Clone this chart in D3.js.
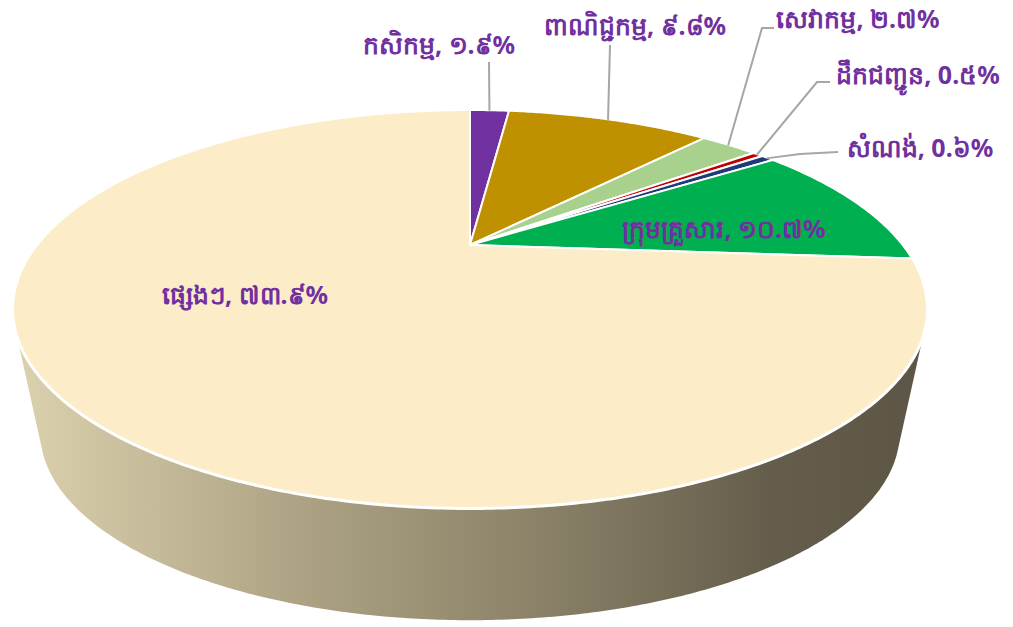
<!DOCTYPE html>
<html>
<head>
<meta charset="utf-8">
<script src="https://cdn.jsdelivr.net/npm/d3@7"></script>
<style>
  body { margin: 0; background: #fff; }
  svg { display: block; }
</style>
</head>
<body>
<div id="chart"></div>
<script>
// Chart data
const categories = ["កសិកម្ម", "ពាណិជ្ជកម្ម", "សេវាកម្ម", "ដឹកជញ្ជូន", "សំណង់", "ក្រុមគ្រួសារ", "ផ្សេងៗ"];
const values = [1.9, 9.8, 2.7, 0.5, 0.6, 10.7, 73.9];
const valueLabels = ["១.៩%", "៩.៨%", "២.៧%", "0.៥%", "0.៦%", "១០.៧%", "៧៣.៩%"];
const colors = ["#7030a0", "#bf9000", "#a9d18e", "#c00000", "#1f3a7a", "#00b050", "#fcecc8"];

// Label placement (text centre + leader elbow), null = no leader
const labelLayout = [
    { x: 439, y: 45, leader: [[489, 62]] },
    { x: 635, y: 26, leader: [[610, 45]] },
    { x: 858, y: 19, leader: [[774, 28], [762, 28]] },
    { x: 918, y: 75, leader: [[830, 82], [817, 82]] },
    { x: 920, y: 148, leader: [[838, 152], [800, 154]] },
    { x: 724, y: 229, leader: null },
    { x: 245, y: 295, leader: null }
];

const width = 1013, height = 627;

// Perspective projection of the pie's circular top face
const cx = 470, cy = 245;
const A = 432.7, B = 178.4, k = -0.3216;
const depthY = 128, bottomScale = 0.94;

function project(r, ang, bottom) {
    const u = r * Math.sin(ang);
    const v = -r * Math.cos(ang);
    const d = 1 + k * v;
    const s = bottom ? bottomScale : 1;
    return [cx + s * A * u / d, cy + (bottom ? depthY : 0) + s * B * v / d];
}

function arcPoints(a0, a1, bottom) {
    const n = Math.max(2, Math.ceil((a1 - a0) / (Math.PI / 360)));
    return d3.range(n + 1).map(i => project(1, a0 + (a1 - a0) * i / n, bottom));
}

const pie = d3.pie().sort(null).value(d => d.value)
    .startAngle(0).endAngle(2 * Math.PI);
const slices = pie(categories.map((c, i) => ({ name: c, value: values[i], label: valueLabels[i], color: colors[i], layout: labelLayout[i] })));

const svg = d3.select("#chart").append("svg")
    .attr("width", width)
    .attr("height", height);

const defs = svg.append("defs");
const grad = defs.append("linearGradient")
    .attr("id", "rimGrad")
    .attr("gradientUnits", "userSpaceOnUse")
    .attr("x1", 20).attr("x2", 930).attr("y1", 0).attr("y2", 0);
[[0, "#dcd1ae"], [0.3, "#aea384"], [0.55, "#8d846a"], [0.82, "#655e4c"], [1, "#5c5545"]]
    .forEach(([o, c]) => grad.append("stop").attr("offset", o).attr("stop-color", c));

const line = d3.line();

// Side of the pie: hull of top and bottom outlines
const topOutline = arcPoints(0, 2 * Math.PI, false);
const bottomOutline = arcPoints(0, 2 * Math.PI, true);
const hull = d3.polygonHull(topOutline.concat(bottomOutline));
svg.append("path")
    .attr("d", line(hull) + "Z")
    .attr("fill", "url(#rimGrad)");

// White edge between top face and side
svg.append("path")
    .attr("d", line(topOutline) + "Z")
    .attr("fill", "#fcecc8")
    .attr("stroke", "#ffffff")
    .attr("stroke-width", 4);

// Slices of the top face
svg.selectAll(".slice")
    .data(slices)
    .enter().append("path")
    .attr("class", "slice")
    .attr("d", d => line([project(0, 0, false)].concat(arcPoints(d.startAngle, d.endAngle, false))) + "Z")
    .attr("fill", d => d.data.color)
    .attr("stroke", "#ffffff")
    .attr("stroke-width", 2)
    .attr("stroke-linejoin", "round");

// Leader lines
svg.selectAll(".leader")
    .data(slices.filter(d => d.data.layout.leader))
    .enter().append("path")
    .attr("class", "leader")
    .attr("d", d => {
        const mid = (d.startAngle + d.endAngle) / 2;
        return line(d.data.layout.leader.concat([project(0.995, mid, false)]));
    })
    .attr("fill", "none")
    .attr("stroke", "#a6a6a6")
    .attr("stroke-width", 2);

// Labels
svg.selectAll(".label")
    .data(slices)
    .enter().append("text")
    .attr("class", "label")
    .attr("x", d => d.data.layout.x)
    .attr("y", d => d.data.layout.y)
    .attr("dy", "0.35em")
    .attr("text-anchor", "middle")
    .style("font-family", "'Noto Sans', 'DejaVu Sans', sans-serif")
    .style("font-size", "25px")
    .style("font-weight", "bold")
    .style("fill", "#7030a0")
    .text(d => `${d.data.name}, ${d.data.label}`);
</script>
</body>
</html>
